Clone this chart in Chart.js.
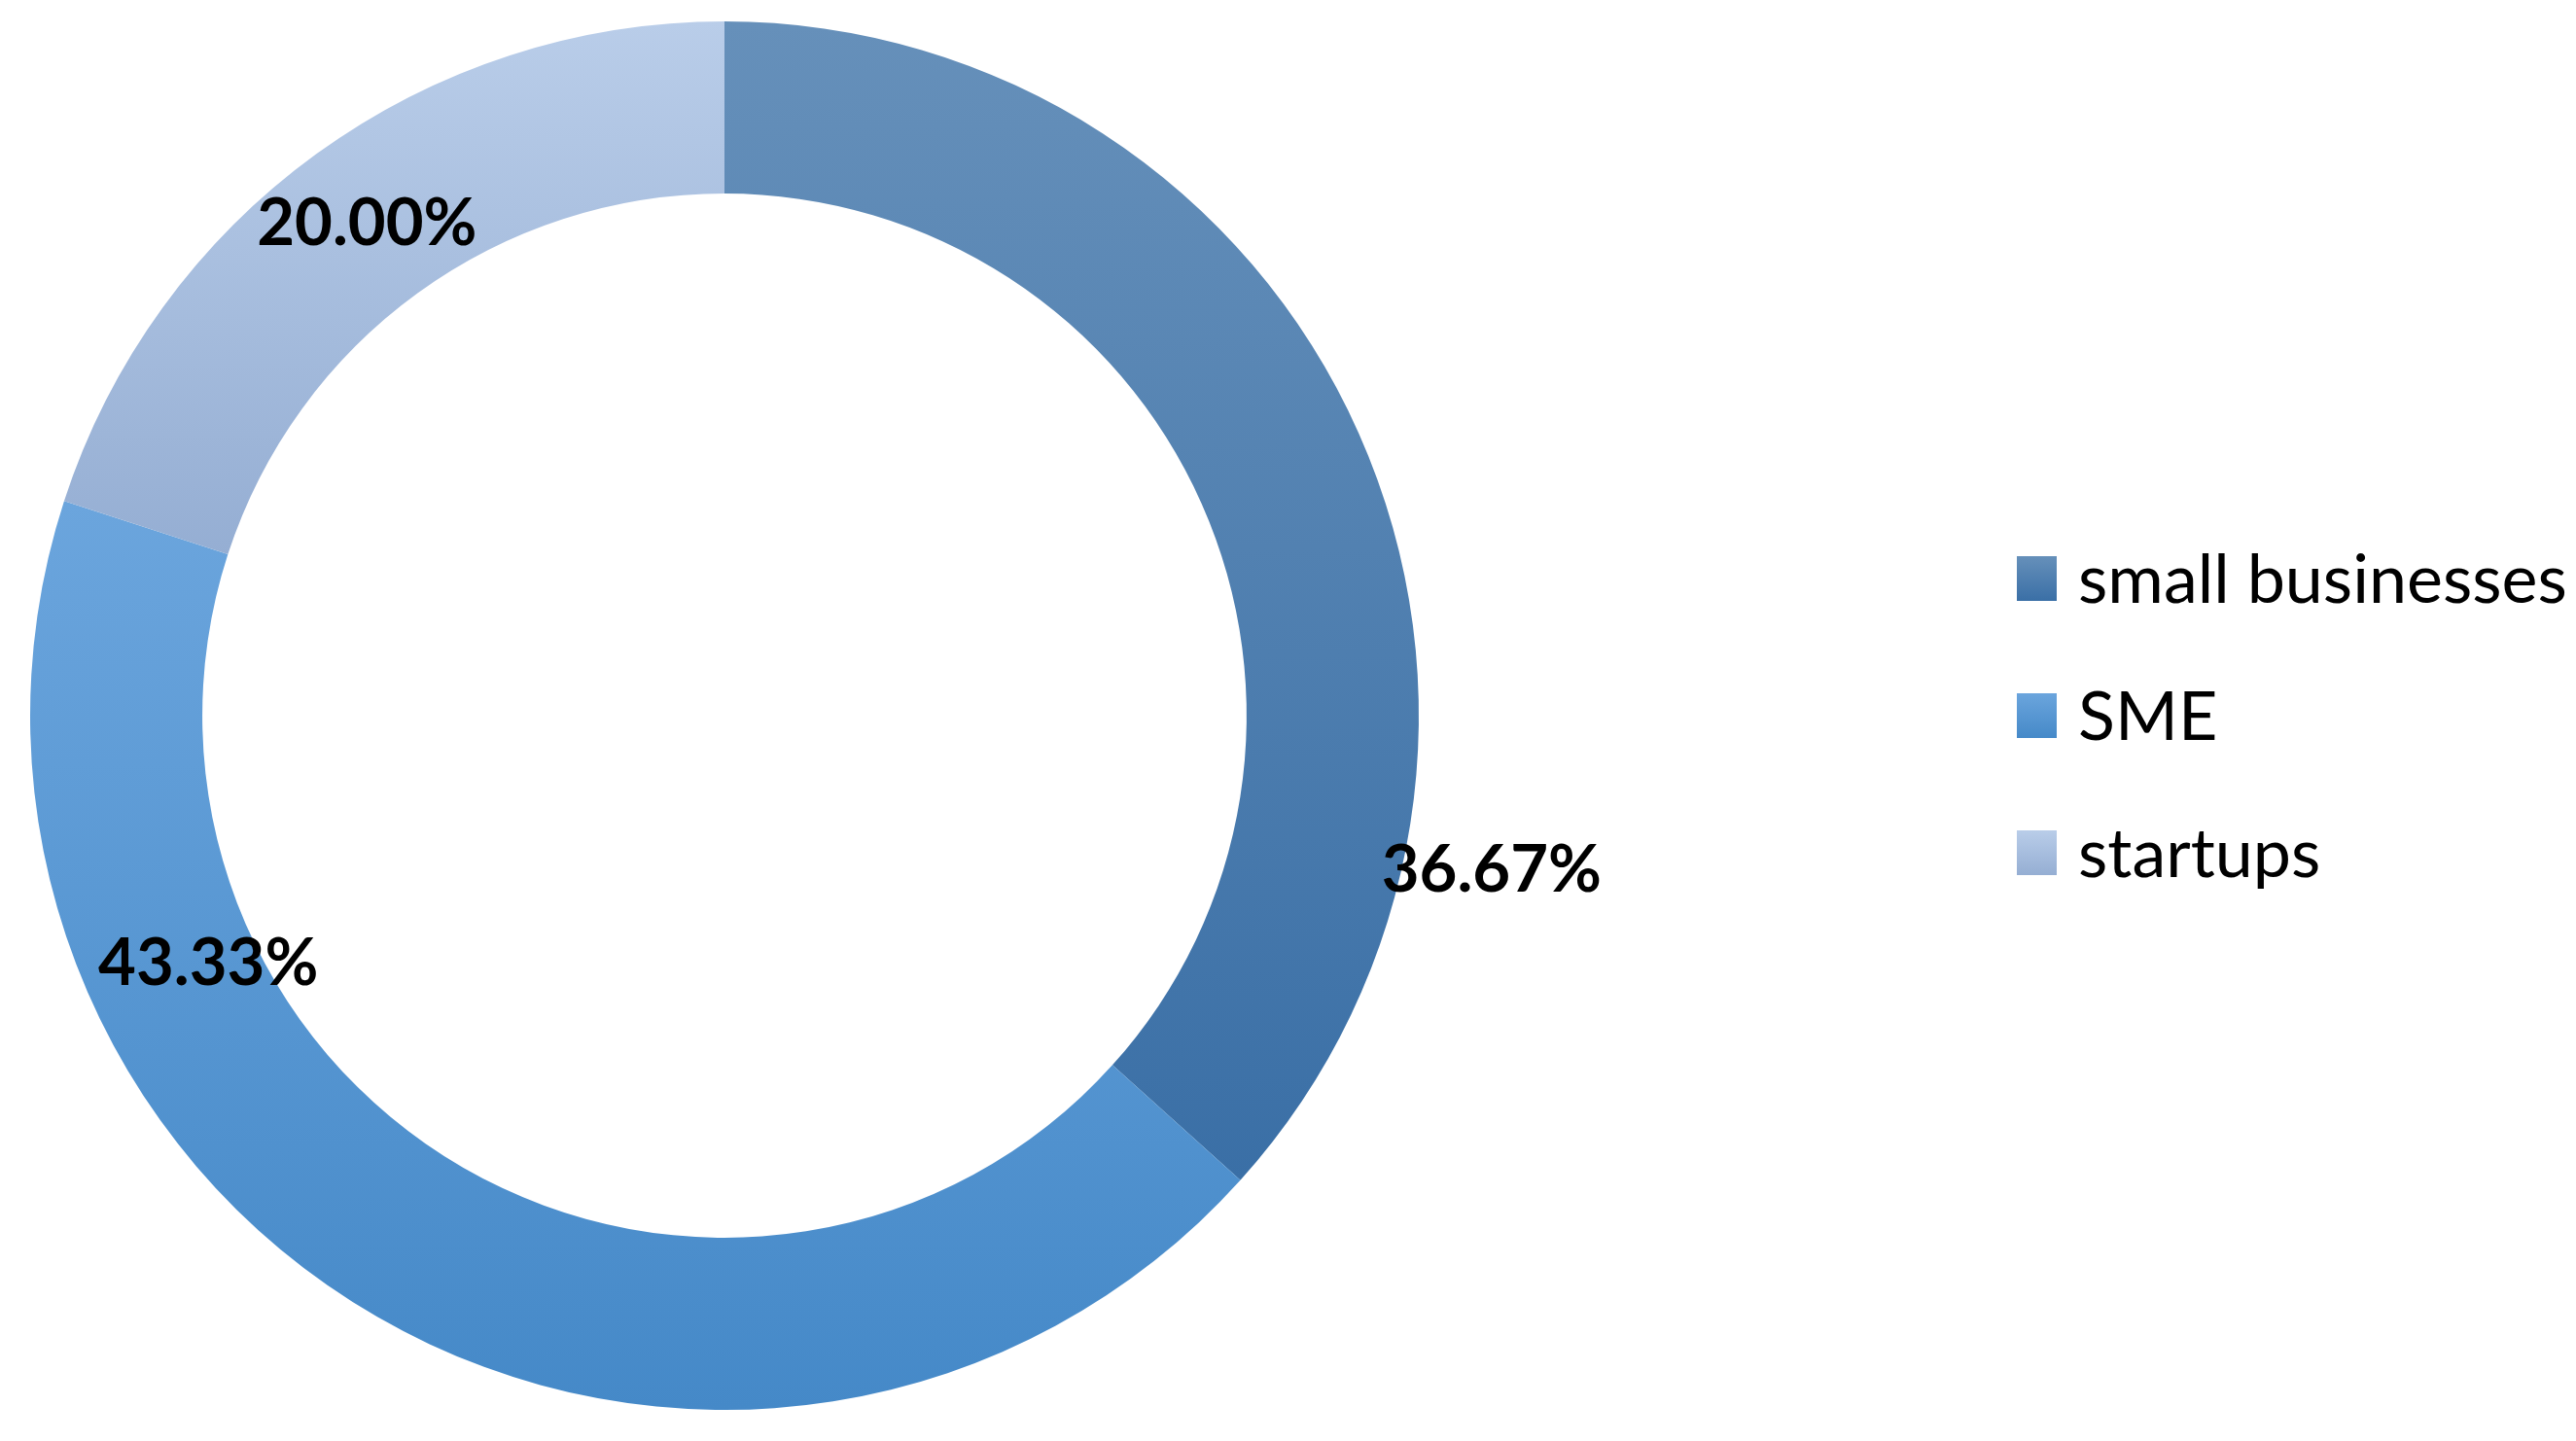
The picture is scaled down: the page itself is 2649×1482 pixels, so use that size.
<!DOCTYPE html>
<html>
<head>
<meta charset="utf-8">
<script src="https://cdn.jsdelivr.net/npm/chart.js@4/dist/chart.umd.min.js"></script>
<style>
    html, body { margin: 0; padding: 0; background: #fff; }
    #wrap { position: relative; width: 2649px; height: 1482px; }
    #legend { position: absolute; left: 2074px; top: 522px; font-family: Lato, sans-serif; font-size: 70px; color: #000; }
    .item { display: flex; align-items: center; height: 141px; white-space: nowrap; }
    .swatch { width: 41px; height: 46px; margin-right: 22px; margin-top: 4px; }
</style>
</head>
<body>
<div id="wrap">
    <canvas id="donut" width="2649" height="1482"></canvas>
    <div id="legend"></div>
</div>
<script>
// Data
const labels = ["small businesses", "SME", "startups"];
const shares = [36.67, 43.33, 20.00];
const valueLabels = ["36.67%", "43.33%", "20.00%"];

// Gradient colours per slice (top, bottom)
const topColors = ["#6690ba", "#6ba5dd", "#b9cde9"];
const bottomColors = ["#3a6fa6", "#4589c8", "#95aed3"];

// Label placement: angle shift (degrees) from slice middle and radius as fraction of outer radius
const labelShift = [35.4, 34.3, 0];
const labelRadius = [1.127, 0.825, 0.876];

const CUTOUT = 0.752;

// Function to build vertical gradient over the slice extent
const sliceGradient = (context) => {
    const chart = context.chart;
    const area = chart.chartArea;
    const i = context.dataIndex;
    if (!area) return topColors[i];

    const cx = (area.left + area.right) / 2;
    const cy = (area.top + area.bottom) / 2;
    const R = Math.min(area.right - area.left, area.bottom - area.top) / 2;
    const r = R * CUTOUT;
    const total = shares.reduce((a, b) => a + b, 0);
    let before = 0;
    for (let k = 0; k < i; k++) before += shares[k];
    const a0 = -Math.PI / 2 + (before / total) * Math.PI * 2;
    const a1 = a0 + (shares[i] / total) * Math.PI * 2;

    const ys = [cy + R * Math.sin(a0), cy + r * Math.sin(a0), cy + R * Math.sin(a1), cy + r * Math.sin(a1)];
    // check the top and bottom of the circle
    [-Math.PI / 2, Math.PI / 2, Math.PI * 1.5].forEach((a) => {
        if (a >= a0 && a <= a1) ys.push(cy + R * Math.sin(a));
    });
    const yTop = Math.min(...ys);
    const yBottom = Math.max(...ys);

    const g = chart.ctx.createLinearGradient(0, yTop, 0, yBottom);
    g.addColorStop(0, topColors[i]);
    g.addColorStop(1, bottomColors[i]);
    return g;
};

// Plugin to draw value labels
const valueLabelPlugin = {
    id: "valueLabels",
    afterDatasetsDraw(chart) {
        const ctx = chart.ctx;
        const meta = chart.getDatasetMeta(0);
        ctx.save();
        ctx.font = "bold 67px Lato, sans-serif";
        ctx.fillStyle = "#000";
        ctx.textAlign = "center";
        ctx.textBaseline = "middle";
        meta.data.forEach((arc, i) => {
            const mid = (arc.startAngle + arc.endAngle) / 2 + (labelShift[i] * Math.PI) / 180;
            const rad = arc.outerRadius * labelRadius[i];
            ctx.fillText(valueLabels[i], arc.x + Math.cos(mid) * rad, arc.y + Math.sin(mid) * rad);
        });
        ctx.restore();
    },
};

new Chart(document.getElementById("donut").getContext("2d"), {
    type: "doughnut",
    data: {
        labels: labels,
        datasets: [
            {
                data: shares,
                backgroundColor: sliceGradient,
                borderWidth: 0,
            },
        ],
    },
    options: {
        responsive: false,
        animation: false,
        cutout: (CUTOUT * 100) + "%",
        layout: {
            padding: { left: 31, right: 1190, top: 22, bottom: 32 },
        },
        plugins: {
            legend: { display: false },
            tooltip: { enabled: false },
        },
    },
    plugins: [valueLabelPlugin],
});

// Legend
const legend = document.getElementById("legend");
labels.forEach((name, i) => {
    const row = document.createElement("div");
    row.className = "item";
    row.innerHTML = `<div class="swatch" style="background: linear-gradient(${topColors[i]}, ${bottomColors[i]})"></div><span>${name}</span>`;
    legend.appendChild(row);
});
</script>
</body>
</html>
